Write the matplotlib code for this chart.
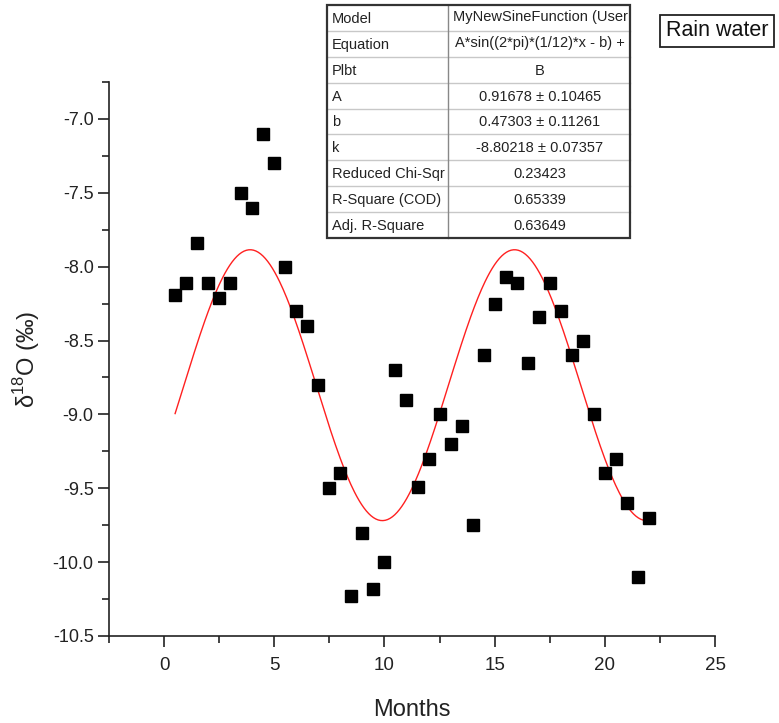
import numpy as np
import matplotlib
matplotlib.use("Agg")
import matplotlib.pyplot as plt
from matplotlib import font_manager
from matplotlib.patches import Rectangle
from matplotlib.ticker import MultipleLocator

# ---------------- data ----------------
months = [0.5, 1.0, 1.5, 2.0, 2.5, 3.0, 3.5, 4.0, 4.5, 5.0, 5.5, 6.0, 6.5, 7.0, 7.5,
          8.0, 8.5, 9.0, 9.5, 10.0, 10.5, 11.0, 11.5, 12.0, 12.5, 13.0, 13.5, 14.0,
          14.5, 15.0, 15.5, 16.0, 16.5, 17.0, 17.5, 18.0, 18.5, 19.0, 19.5, 20.0,
          20.5, 21.0, 21.5, 22.0]
d18o = [-8.19, -8.11, -7.84, -8.11, -8.21, -8.11, -7.50, -7.60, -7.10, -7.30, -8.00,
        -8.30, -8.40, -8.80, -9.50, -9.40, -10.23, -9.80, -10.18, -10.00, -8.70,
        -8.90, -9.49, -9.30, -9.00, -9.20, -9.08, -9.75, -8.60, -8.25, -8.07, -8.11,
        -8.65, -8.34, -8.11, -8.30, -8.60, -8.50, -9.00, -9.40, -9.30, -9.60,
        -10.10, -9.70]

# fit parameters (from the table)
fit_A = 0.91678
fit_b = 0.47303
fit_k = -8.80218

table_labels = ["Model", "Equation", "Plbt", "A", "b", "k",
                "Reduced Chi-Sqr", "R-Square (COD)", "Adj. R-Square"]
table_values = ["MyNewSineFunction (User", "A*sin((2*pi)*(1/12)*x - b) +", "B",
                "0.91678 \u00b1 0.10465", "0.47303 \u00b1 0.11261",
                "-8.80218 \u00b1 0.07357", "0.23423", "0.65339", "0.63649"]

x_ticks = [0, 5, 10, 15, 20, 25]
y_ticks = [-10.5, -10.0, -9.5, -9.0, -8.5, -8.0, -7.5, -7.0]

# ---------------- fonts ----------------
avail = {f.name for f in font_manager.fontManager.ttflist}
base = "Liberation Sans" if "Liberation Sans" in avail else "DejaVu Sans"
narrow = "Liberation Sans Narrow" if "Liberation Sans Narrow" in avail else base
plt.rcParams['font.family'] = [base, 'DejaVu Sans']
plt.rcParams['mathtext.fontset'] = 'custom'
plt.rcParams['mathtext.rm'] = base

fig = plt.figure(figsize=(7.79, 7.23), dpi=100)
ax = fig.add_axes([109/779, 1-636/723, (715-109)/779, (636-82)/723])

ax.plot(months, d18o, linestyle='none', marker='s', markersize=9,
        color='black', zorder=3)

xf = np.linspace(min(months), max(months), 400)
yf = fit_A * np.sin(2*np.pi*(1/12)*xf - fit_b) + fit_k
ax.plot(xf, yf, color='#ff2020', linewidth=1.0, zorder=2)

ax.set_xlim(-2.5, 25)
ax.set_ylim(-10.5, -6.75)
ax.set_xticks(x_ticks)
ax.set_yticks(y_ticks)
ax.set_yticklabels([f"{v:.1f}" for v in y_ticks])
ax.xaxis.set_minor_locator(MultipleLocator(2.5))
ax.yaxis.set_minor_locator(MultipleLocator(0.25))
ax.spines['top'].set_visible(False)
ax.spines['right'].set_visible(False)
for s in ('left', 'bottom'):
    ax.spines[s].set_linewidth(1.2)
    ax.spines[s].set_color('#222222')
ax.tick_params(which='major', direction='out', length=8, width=1.2, color='#222222',
               labelsize=13, labelcolor='#222222')
ax.tick_params(axis='y', which='major', pad=3)
ax.tick_params(axis='x', which='major', pad=7)
ax.tick_params(which='minor', direction='out', length=5, width=1.2, color='#222222')
for lab in ax.get_xticklabels():
    lab.set_fontfamily([narrow, 'DejaVu Sans'])
    lab.set_fontsize(13.5)

ax.set_xlabel("Months", fontsize=17, family=[narrow, 'DejaVu Sans'],
              color='#222222', labelpad=18)
ax.set_ylabel("\u03b4$^{18}$O (\u2030)", fontsize=17, color='#222222', labelpad=8)

# ---------------- table ----------------
tx0, tx1, tx2 = 327, 448, 630
ty0, ty1 = 5, 238
tax = fig.add_axes([0, 0, 1, 1], facecolor='none')
tax.set_xlim(0, 779)
tax.set_ylim(723, 0)
tax.axis('off')
nrows = len(table_labels)
rh = (ty1 - ty0) / nrows
tax.add_patch(Rectangle((tx0, ty0), tx2 - tx0, ty1 - ty0, facecolor='white',
                        edgecolor='none', zorder=1))
for i in range(1, nrows):
    y = ty0 + i * rh
    tax.plot([tx0, tx2], [y, y], color='#c8c8c8', lw=1.0, zorder=2)
tax.plot([tx1, tx1], [ty0, ty1], color='#888888', lw=1.0, zorder=2)
tax.add_patch(Rectangle((tx0, ty0), tx2 - tx0, ty1 - ty0, facecolor='none',
                        edgecolor='#333333', lw=1.6, zorder=3))
for i, (lab, val) in enumerate(zip(table_labels, table_values)):
    yc = ty0 + (i + 0.5) * rh + 1
    tax.text(tx0 + 5, yc, lab, ha='left', va='center', fontsize=10.5, color='#222222')
    t = tax.text((tx1 + tx2) / 2 + 1, yc - 2 if i < 2 else yc, val, ha='center',
                 va='center', fontsize=10.5, color='#222222')
    t.set_clip_path(Rectangle((tx1 + 1, ty0 + i * rh), tx2 - tx1 - 2, rh,
                              transform=tax.transData))

# ---------------- legend box ----------------
tax.text(717, 31, "Rain water", ha='center', va='center', fontsize=15.5,
         color='#111111',
         bbox=dict(boxstyle='square,pad=0.25', facecolor='white',
                   edgecolor='#222222', lw=1.3))

fig.savefig("out.png", dpi=100)
